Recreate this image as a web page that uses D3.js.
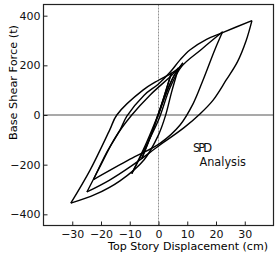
<!DOCTYPE html>
<html>
<head>
<meta charset="utf-8">
<script src="https://cdn.jsdelivr.net/npm/d3@7"></script>
<style>
  body { margin: 0; background: #fff; }
  svg { display: block; font-family: "DejaVu Sans", sans-serif; }
</style>
</head>
<body>
<div id="chart"></div>
<script>
// hysteresis trace (cm, t), in time order
var disp = [0, 2.5, 4.5,
  1, -2.5, -5.8,
  -2, 2, 5.5, 8.5,
  5, 0, -4.5, -9.3,
  -5, 0, 4, 8, 15, 22.3,
  19.6, 15.5, 12.1, 7.5, 0.5, -9.9, -22.6,
  -18, -13.4, -11, -5, 0, 4, 7.5, 10.9, 16.7, 22.3, 32.5,
  30.5, 27.5, 23.5, 19, 14.5, 9, 0.5, -9.9, -17, -24.9,
  -20, -15, -9.3, -2.9, 4.6, 7,
  4.5, 2.5, 0, -5, -13.4, -22, -30.5,
  -23.8, -17, -14.5, -5.3, 0, 4.6, 7];
var force = [0, 95, 170,
  40, -80, -175,
  -60, 70, 160, 210,
  150, 5, -120, -236,
  -140, -20, 110, 195, 265, 335,
  263, 141, 47, -40, -114, -178, -260,
  -150, -61, -5, 80, 125, 172, 222, 262, 305, 332, 380,
  300, 215, 140, 60, 5, -50, -121, -209, -262, -310,
  -200, -90, 0, 81, 160, 190,
  90, 0, -80, -180, -265, -320, -355,
  -222, -61, 0, 101, 140, 169, 188];

var xTicks = [-30, -20, -10, 0, 10, 20, 30];
var yTicks = [-400, -200, 0, 200, 400];
var xLabel = "Top Story Displacement (cm)";
var yLabel = "Base Shear Force (t)";
var noteLines = ["SPD", "Analysis"];

var W = 276, H = 259;
var margin = { top: 4.5, right: 2.5, bottom: 33.5, left: 43.5 },
    width = W - margin.left - margin.right,
    height = H - margin.top - margin.bottom;

var svg = d3.select("#chart").append("svg")
    .attr("width", W)
    .attr("height", H);

var g = svg.append("g")
    .attr("transform", "translate(" + margin.left + "," + margin.top + ")");

var x = d3.scaleLinear().domain([-40, 40]).range([0, width]);
var y = d3.scaleLinear().domain([-445, 445]).range([height, 0]);

// zero lines
g.append("line")
    .attr("x1", 0).attr("x2", width)
    .attr("y1", y(0)).attr("y2", y(0))
    .attr("stroke", "#555").attr("stroke-width", 1.1);
g.append("line")
    .attr("x1", x(0)).attr("x2", x(0))
    .attr("y1", 0).attr("y2", height)
    .attr("stroke", "#777").attr("stroke-width", 0.8)
    .attr("stroke-dasharray", "2,1");

// axes with inward ticks
var yAxis = g.append("g")
    .call(d3.axisLeft(y).tickValues(yTicks).tickSize(-4).tickPadding(3));
var xAxis = g.append("g")
    .attr("transform", "translate(0," + height + ")")
    .call(d3.axisBottom(x).tickValues(xTicks).tickSize(-4).tickPadding(5));

[xAxis, yAxis].forEach(function(a) {
  a.select(".domain").remove();
  a.selectAll("line").attr("stroke", "#222").attr("stroke-width", 1);
  a.selectAll("text")
      .attr("fill", "#111")
      .style("font-size", "11px")
      .style("font-family", "DejaVu Sans, sans-serif");
});

// frame
g.append("rect")
    .attr("width", width).attr("height", height)
    .attr("fill", "none")
    .attr("stroke", "#222").attr("stroke-width", 1.2);

// split the trace into branches at displacement reversals
var pts = disp.map(function(d, i) { return [d, force[i]]; });
var branches = [], cur = [pts[0]], dir = 0;
for (var i = 1; i < pts.length; i++) {
  var s = Math.sign(pts[i][0] - pts[i - 1][0]);
  if (dir !== 0 && s !== dir) {
    branches.push(cur);
    cur = [pts[i - 1]];
  }
  cur.push(pts[i]);
  dir = s;
}
branches.push(cur);

var line = d3.line()
    .x(function(d) { return x(d[0]); })
    .y(function(d) { return y(d[1]); })
    .curve(d3.curveCatmullRom.alpha(0.5));

g.selectAll(".branch")
    .data(branches)
  .enter().append("path")
    .attr("class", "branch")
    .attr("d", line)
    .attr("fill", "none")
    .attr("stroke", "#000")
    .attr("stroke-width", 1.4)
    .attr("stroke-linejoin", "miter");

// axis titles
svg.append("text")
    .attr("transform", "translate(17,82.5) rotate(-90)")
    .attr("text-anchor", "middle")
    .attr("textLength", 115)
    .attr("lengthAdjust", "spacingAndGlyphs")
    .style("font-size", "11px")
    .attr("fill", "#000")
    .text(yLabel);

svg.append("text")
    .attr("x", 188).attr("y", 250)
    .attr("text-anchor", "middle")
    .attr("textLength", 160)
    .attr("lengthAdjust", "spacingAndGlyphs")
    .style("font-size", "10.5px")
    .attr("fill", "#000")
    .text(xLabel);

// annotation
svg.append("text")
    .attr("x", 193).attr("y", 151.5)
    .attr("textLength", 19)
    .attr("lengthAdjust", "spacing")
    .style("font-size", "11.5px")
    .attr("fill", "#111")
    .text(noteLines[0]);
svg.append("text")
    .attr("x", 199.5).attr("y", 166)
    .attr("textLength", 46.5)
    .attr("lengthAdjust", "spacingAndGlyphs")
    .style("font-size", "11.5px")
    .attr("fill", "#111")
    .text(noteLines[1]);
</script>
</body>
</html>
